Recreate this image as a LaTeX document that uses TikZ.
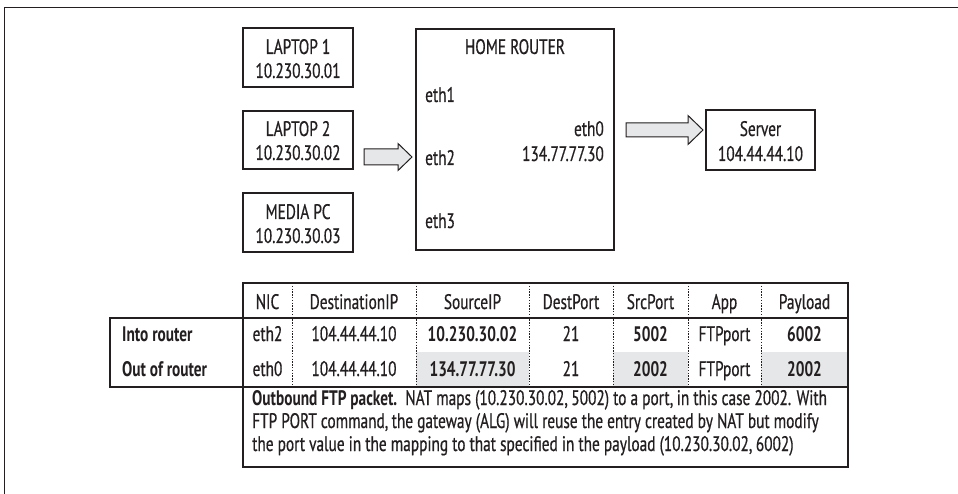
\documentclass[tikz,border=0pt]{standalone}
\usepackage{fontspec}
\setmainfont{PT Sans}[FakeStretch=0.73, UprightFeatures={FakeBold=0.6}]
\usetikzlibrary{calc,backgrounds}
\definecolor{ink}{HTML}{231F20}
\definecolor{cellgray}{HTML}{E6E7E8}
\definecolor{arrowfill}{HTML}{E6E7E8}
\newcommand{\shadowof}[1]{%
  \foreach \k in {0,...,4}{%
    \fill[black,opacity=0.09] ([shift={({4+\k},{5+\k})}]#1.north west) rectangle ([shift={({9-\k},{10-\k})}]#1.south east);
  }}
\newcommand{\shadowrect}[4]{%
  \foreach \k in {0,...,4}{%
    \fill[black,opacity=0.09] ({#1+4+\k},{#2+5+\k}) rectangle ({#3+9-\k},{#4+10-\k});
  }}
\begin{document}
\begin{tikzpicture}[x=1pt,y=-1pt,
  every node/.style={font=\fontsize{21}{24}\selectfont, text=ink},
  box/.style={draw=ink, line width=2.8, fill=white, inner sep=0, align=center},
  lbl/.style={inner sep=0},
  blockarrow/.style={draw=ink, line width=1, fill=arrowfill, line join=miter},
  tline/.style={draw=ink, line width=2.8},
  dline/.style={draw=ink, line width=1, dash pattern=on 1.4pt off 1.4pt},
  hdr/.style={inner sep=0, anchor=base},
  cell/.style={inner sep=0, anchor=base},
  bcell/.style={inner sep=0, anchor=base, font=\fontsize{21}{24}\selectfont\bfseries},
  captext/.style={inner sep=0, anchor=base west, font=\fontsize{21}{23}\selectfont}
]
\useasboundingbox (0,0) rectangle (958,494);
\fill[white] (0,0) rectangle (958,494);
% outer frame (top and left edges)
\draw[ink, line width=1.4] (4.5,494) -- (4.5,7.5) -- (958,7.5);

% nodes
\node[box, minimum width=110, minimum height=59] (lap1) at (298,57.5) {};
\node[box, minimum width=110, minimum height=58] (lap2) at (298,140) {};
\node[box, minimum width=110, minimum height=59] (media) at (298,222.5) {};
\node[box, minimum width=198, minimum height=221] (router) at (515,139.5) {};
\node[box, minimum width=109, minimum height=60] (server) at (760.5,140) {};

\begin{scope}[on background layer]
  \shadowof{lap1}\shadowof{lap2}\shadowof{media}\shadowof{router}\shadowof{server}
  \shadowrect{110}{318}{243}{387}
  \shadowrect{243}{283}{848}{467}
\end{scope}

% box texts
\node[lbl, anchor=base] (lap1a) at (298,54) {LAPTOP 1};
\node[lbl, anchor=base] (lap1b) at (298,78) {10.230.30.01};
\node[lbl, anchor=base] (lap2a) at (298,136) {LAPTOP 2};
\node[lbl, anchor=base] (lap2b) at (298,160) {10.230.30.02};
\node[lbl, anchor=base] (mediaa) at (298,219) {MEDIA PC};
\node[lbl, anchor=base] (mediab) at (298,243) {10.230.30.03};
\node[lbl, anchor=base] (rtitle) at (515,54) {HOME ROUTER};
\node[lbl, anchor=base west] (eth1) at (425,102) {eth1};
\node[lbl, anchor=base west] (eth2) at (425,165) {eth2};
\node[lbl, anchor=base west] (eth3) at (425,228) {eth3};
\node[lbl, anchor=base east] (eth0) at (604,136) {eth0};
\node[lbl, anchor=base east] (eth0ip) at (604,161) {134.77.77.30};
\node[lbl, anchor=base] (srva) at (760.5,136) {Server};
\node[lbl, anchor=base] (srvb) at (760.5,161) {104.44.44.10};

% block arrows
\draw[blockarrow] (364,149) -- (398,149) -- (398,143.5) -- (412,157) -- (398,170.5) -- (398,165) -- (364,165) -- cycle;
\draw[blockarrow] (626,123) -- (688,123) -- (688,115.5) -- (703,130) -- (688,144.5) -- (688,137) -- (626,137) -- cycle;

% table
\fill[white] (110,318) rectangle (243,387);
\fill[white] (243,283) rectangle (848,467);
\fill[cellgray] (416,352) rectangle (529,387);
\fill[cellgray] (613,352) rectangle (688,387);
\fill[cellgray] (761,352) rectangle (848,387);
\foreach \x in {292,416,529,613,688,761}{
  \draw[dline] (\x,283) -- (\x,387);
}
\draw[tline] (243,283) rectangle (848,467);
\draw[tline] (110,318) rectangle (243,387);
\draw[tline] (243,318) -- (848,318);
\draw[tline] (243,387) -- (848,387);

% header
\node[hdr] (hNIC) at (267.5,309) {NIC};
\node[hdr] (hDest) at (354,309) {DestinationIP};
\node[hdr] (hSrc) at (472.5,309) {SourceIP};
\node[hdr] (hDP) at (571,309) {DestPort};
\node[hdr] (hSP) at (650.5,309) {SrcPort};
\node[hdr] (hApp) at (724.5,309) {App};
\node[hdr] (hPay) at (804.5,309) {Payload};

% rows
\node[inner sep=0, anchor=base west, font=\fontsize{21}{24}\selectfont\bfseries] (rin) at (122,341) {Into router};
\node[inner sep=0, anchor=base west, font=\fontsize{21}{24}\selectfont\bfseries] (rout) at (122,376) {Out of router};

\node[cell] (a1) at (267.5,341) {eth2};
\node[cell] (b1) at (354,341) {104.44.44.10};
\node[bcell] (c1) at (472.5,341) {10.230.30.02};
\node[cell] (d1) at (571,341) {21};
\node[bcell] (e1) at (650.5,341) {5002};
\node[cell] (f1) at (724.5,341) {FTPport};
\node[bcell] (g1) at (804.5,341) {6002};

\node[cell] (a2) at (267.5,376) {eth0};
\node[cell] (b2) at (354,376) {104.44.44.10};
\node[bcell] (c2) at (472.5,376) {134.77.77.30};
\node[cell] (d2) at (571,376) {21};
\node[bcell] (e2) at (650.5,376) {2002};
\node[cell] (f2) at (724.5,376) {FTPport};
\node[bcell] (g2) at (804.5,376) {2002};

% caption
\node[captext] (cap1) at (252,405) {\textbf{Outbound FTP packet.}\ \ NAT maps (10.230.30.02,\,5002) to a port,\,in this case 2002. With};
\node[captext] (cap2) at (252,428) {FTP PORT command,\,the gateway (ALG) will reuse the entry created by NAT but modify};
\node[captext] (cap3) at (252,451) {the port value in the mapping to that specified in the payload (10.230.30.02,\,6002)};
\end{tikzpicture}
\end{document}
